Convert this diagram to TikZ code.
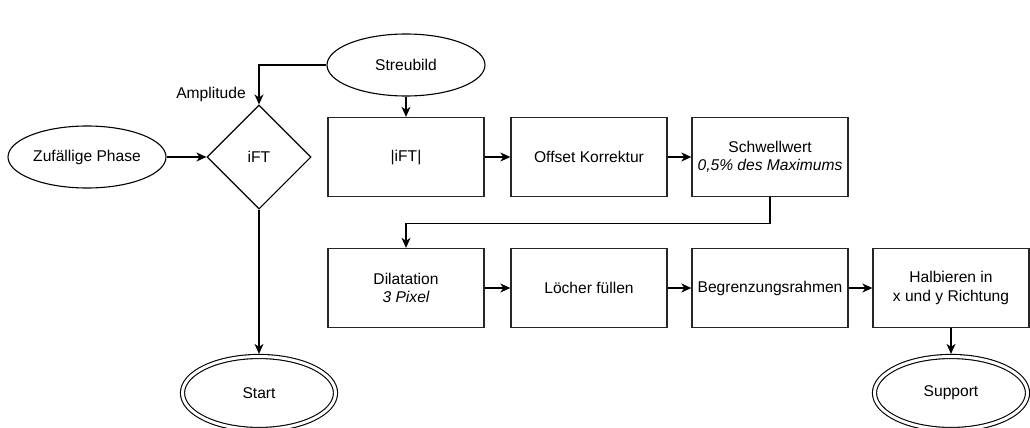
\documentclass[tikz,border=0pt]{standalone}
\usepackage{fontspec}
\setmainfont{Liberation Sans}
\usetikzlibrary{shapes.geometric,arrows.meta,calc}
\begin{document}
\begin{tikzpicture}[x=1pt,y=-1pt,
  every node/.style={font=\fontsize{15.6}{18.5}\selectfont, text=black},
  stepbox/.style={draw=black!85, line width=1.3pt, rectangle, minimum width=156pt, minimum height=79pt, inner sep=0pt, align=center},
  oval/.style={draw=black, line width=1.1pt, ellipse, minimum width=158pt, minimum height=62pt, inner sep=0pt},
  termoval/.style={draw=black, line width=1.1pt, double, double distance=3pt, ellipse, minimum width=153pt, minimum height=73pt, inner sep=0pt, outer sep=2.6pt},
  decide/.style={draw=black, line width=1.1pt, diamond, minimum width=104pt, minimum height=104pt, inner sep=0pt},
  conn/.style={draw=black, line width=1.3pt, -{Stealth[length=10pt,width=9pt,inset=3pt]}}
]
\useasboundingbox[fill=white] (0,0) rectangle (1030,428);

\node[oval] (streu) at (406,65) {Streubild};
\node[oval] (zuf) at (87,157) {Zufällige Phase};
\node[decide] (ift) at (259,157) {iFT};
\node (amp) at (211,94) {Amplitude};

\node[stepbox] (lift) at (406,157) {|iFT|};
\node[stepbox] (off) at (589,157) {Offset Korrektur};
\node[stepbox] (schw) at (770,157) {Schwellwert\\\itshape 0,5\% des Maximums};

\node[stepbox] (dil) at (406,288) {Dilatation\\\itshape 3 Pixel};
\node[stepbox] (loch) at (589,288) {Löcher füllen};
\node[stepbox] (begr) at (770,288) {Begrenzungsrahmen};
\node[stepbox] (halb) at (951,288) {Halbieren in\\x und y Richtung};

\node[termoval] (start) at (259,393) {Start};
\node[termoval] (supp) at (951,393) {Support};

\draw[conn] (streu.west) -| (ift.north);
\draw[conn] (streu.south) -- (lift.north);
\draw[conn] (zuf.east) -- (ift.west);
\draw[conn] (ift.south) -- (start.north);
\draw[conn] (lift.east) -- (off.west);
\draw[conn] (off.east) -- (schw.west);
\draw[conn] (schw.south) -- ++(0,26) -| (dil.north);
\draw[conn] (dil.east) -- (loch.west);
\draw[conn] (loch.east) -- (begr.west);
\draw[conn] (begr.east) -- (halb.west);
\draw[conn] (halb.south) -- (supp.north);
\end{tikzpicture}
\end{document}
